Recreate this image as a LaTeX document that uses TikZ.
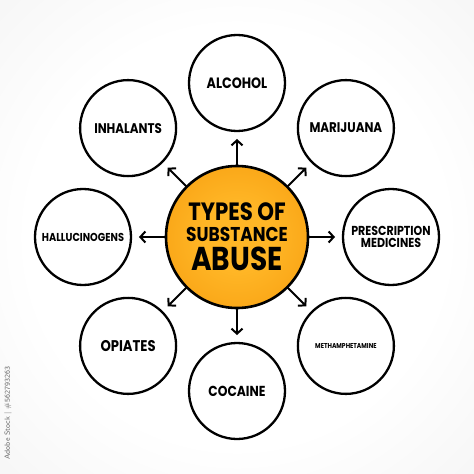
\documentclass[tikz,border=0pt]{standalone}
\usepackage{fontspec}
\setmainfont{Poppins}[FakeStretch=0.85]
\usetikzlibrary{positioning,arrows.meta}

\definecolor{paperg}{RGB}{224,224,224}
\definecolor{ballin}{RGB}{255,182,38}
\definecolor{ballout}{RGB}{242,142,0}
\pgfdeclareradialshading{paper}{\pgfpoint{0bp}{0bp}}{color(0bp)=(white); color(22bp)=(white); color(71bp)=(paperg)}
\pgfdeclareradialshading{orangeball}{\pgfpoint{0bp}{0bp}}{color(0bp)=(ballin); color(12bp)=(ballin); color(50bp)=(ballout)}

\tikzset{
  sub/.style={draw,circle,fill=white,line width=2.3pt,minimum size=96pt,inner sep=0pt,outer sep=0pt,align=center},
  link/.style={-{Straight Barb[length=5pt,width=11pt]},line width=2pt,shorten >=8pt}
}

\begin{document}
\begin{tikzpicture}[x=1pt,y=1pt]
\useasboundingbox (-237,-237) rectangle (237,237);
\shade[shading=paper] (-237,-237) rectangle (237,237);

\node[draw,circle,line width=2.6pt,minimum size=142pt,inner sep=0pt,outer sep=0pt,shading=orangeball,align=center,font=\bfseries\fontsize{10}{10}\selectfont] (T) at (0,0)
  {{\fontsize{25}{25}\selectfont TYPES OF}\\[5pt]{\fontsize{20}{20}\selectfont SUBSTANCE}\\[5pt]{\fontsize{33}{33}\selectfont ABUSE}};

\node[sub,font=\bfseries\fontsize{15}{15}\selectfont] (AL) at (90:154) {ALCOHOL};
\node[sub,font=\bfseries\fontsize{14}{14}\selectfont] (MA) at (45:154) {MARIJUANA};
\node[sub,font=\bfseries\fontsize{13}{12.5}\selectfont] (PR) at (0:154) {PRESCRIPTION\\MEDICINES};
\node[sub,font=\bfseries\fontsize{7.1}{9}\selectfont] (ME) at (-45:154) {METHAMPHETAMINE};
\node[sub,font=\bfseries\fontsize{14.5}{14}\selectfont] (CO) at (-90:154) {COCAINE};
\node[sub,font=\bfseries\fontsize{15.5}{15}\selectfont] (OP) at (-135:154) {OPIATES};
\node[sub,font=\bfseries\fontsize{11.5}{11}\selectfont] (HA) at (180:154) {HALLUCINOGENS};
\node[sub,font=\bfseries\fontsize{14}{14}\selectfont] (IN) at (135:154) {INHALANTS};

\draw[link] (T) -- (AL);
\draw[link] (T) -- (MA);
\draw[link] (T) -- (PR);
\draw[link] (T) -- (ME);
\draw[link] (T) -- (CO);
\draw[link] (T) -- (OP);
\draw[link] (T) -- (HA);
\draw[link] (T) -- (IN);

\node[rotate=90,text=black!60,font=\sffamily\fontsize{7.5}{8}\selectfont] (wm) at (-229,-176) {Adobe Stock | \#562793263};
\end{tikzpicture}
\end{document}
